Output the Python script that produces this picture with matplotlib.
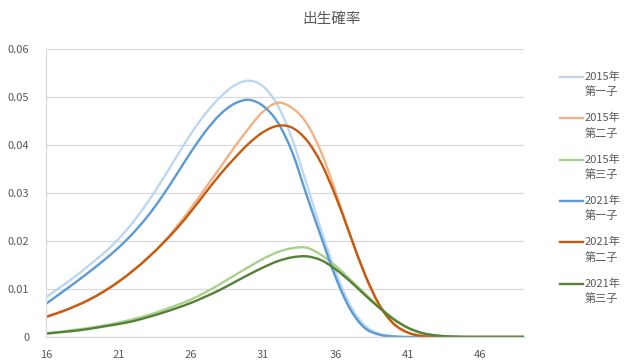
import matplotlib
matplotlib.use("Agg")
import matplotlib.pyplot as plt
from matplotlib.lines import Line2D
from matplotlib.path import Path
from matplotlib.patches import PathPatch

plt.rcParams['font.family'] = ['Noto Sans CJK JP', 'DejaVu Sans']

ages = list(range(16, 50))

s2015_1 = [0.0083, 0.0104, 0.0126, 0.0150, 0.0175, 0.0204, 0.0239, 0.0280, 0.0326, 0.0375,
           0.0423, 0.0465, 0.0499, 0.0524, 0.0534, 0.0522, 0.0482, 0.0412, 0.0318, 0.0222,
           0.0135, 0.0066, 0.0024, 0.0007, 0.0002, 0.0000, 0.0000, 0.0000, 0.0000, 0.0000,
           0.0000, 0.0000, 0.0000, 0.0000]
s2015_2 = [0.0042, 0.0052, 0.0064, 0.0078, 0.0095, 0.0115, 0.0138, 0.0164, 0.0194, 0.0229,
           0.0268, 0.0310, 0.0352, 0.0395, 0.0435, 0.0470, 0.0488, 0.0477, 0.0445, 0.0385,
           0.0302, 0.0212, 0.0130, 0.0066, 0.0027, 0.0009, 0.0002, 0.0000, 0.0000, 0.0000,
           0.0000, 0.0000, 0.0000, 0.0000]
s2015_3 = [0.0008, 0.0011, 0.0015, 0.0019, 0.0024, 0.0030, 0.0037, 0.0045, 0.0055, 0.0066,
           0.0078, 0.0093, 0.0110, 0.0128, 0.0146, 0.0163, 0.0177, 0.0185, 0.0186, 0.0171,
           0.0148, 0.0120, 0.0091, 0.0063, 0.0038, 0.0019, 0.0008, 0.0003, 0.0001, 0.0000,
           0.0000, 0.0000, 0.0000, 0.0000]
s2021_1 = [0.0069, 0.0091, 0.0113, 0.0136, 0.0160, 0.0186, 0.0216, 0.0251, 0.0292, 0.0338,
           0.0385, 0.0428, 0.0463, 0.0486, 0.0494, 0.0481, 0.0447, 0.0385, 0.0295, 0.0208,
           0.0124, 0.0058, 0.0019, 0.0005, 0.0001, 0.0000, 0.0000, 0.0000, 0.0000, 0.0000,
           0.0000, 0.0000, 0.0000, 0.0000]
s2021_2 = [0.0042, 0.0052, 0.0064, 0.0078, 0.0095, 0.0115, 0.0138, 0.0164, 0.0193, 0.0225,
           0.0261, 0.0300, 0.0338, 0.0372, 0.0403, 0.0427, 0.0440, 0.0436, 0.0410, 0.0362,
           0.0293, 0.0212, 0.0132, 0.0068, 0.0028, 0.0009, 0.0002, 0.0000, 0.0000, 0.0000,
           0.0000, 0.0000, 0.0000, 0.0000]
s2021_3 = [0.0007, 0.0010, 0.0013, 0.0017, 0.0022, 0.0027, 0.0033, 0.0041, 0.0050, 0.0060,
           0.0071, 0.0084, 0.0098, 0.0114, 0.0130, 0.0145, 0.0158, 0.0166, 0.0168, 0.0160,
           0.0141, 0.0116, 0.0088, 0.0061, 0.0037, 0.0019, 0.0008, 0.0003, 0.0001, 0.0000,
           0.0000, 0.0000, 0.0000, 0.0000]

series_labels = ["2015年第一子", "2015年第二子", "2015年第三子",
                 "2021年第一子", "2021年第二子", "2021年第三子"]
series_values = [s2015_1, s2015_2, s2015_3, s2021_1, s2021_2, s2021_3]
colors = ["#BDD7EE", "#F4B183", "#A9D18E", "#5B9BD5", "#C55A11", "#548235"]

y_ticks = [0, 0.01, 0.02, 0.03, 0.04, 0.05, 0.06]
y_tick_labels = ["0", "0.01", "0.02", "0.03", "0.04", "0.05", "0.06"]
title = "出生確率"


def smooth_path(xs, ys):
    """Excel-style smoothed line: cubic Bezier segments through every data point."""
    n = len(xs)
    verts = [(xs[0], ys[0])]
    codes = [Path.MOVETO]
    for i in range(n - 1):
        x0, y0 = (xs[i - 1], ys[i - 1]) if i > 0 else (xs[i], ys[i])
        x1, y1 = xs[i], ys[i]
        x2, y2 = xs[i + 1], ys[i + 1]
        x3, y3 = (xs[i + 2], ys[i + 2]) if i + 2 < n else (xs[i + 1], ys[i + 1])
        c1 = (x1 + (x2 - x0) / 6.0, y1 + (y2 - y0) / 6.0)
        c2 = (x2 - (x3 - x1) / 6.0, y2 - (y3 - y1) / 6.0)
        verts += [c1, c2, (x2, y2)]
        codes += [Path.CURVE4] * 3
    return Path(verts, codes)


W, H = 624, 361
fig = plt.figure(figsize=(W / 100, H / 100), dpi=100)
ax = fig.add_axes([46 / W, 1 - 337 / H, (524 - 46) / W, (337 - 49) / H])

xpos = list(range(len(ages)))
for vals, c in zip(series_values, colors):
    patch = PathPatch(smooth_path(xpos, vals), facecolor='none', edgecolor=c, lw=1.7,
                      capstyle='round', joinstyle='round')
    ax.add_patch(patch)

ax.set_xlim(0, len(ages) - 1)
ax.set_ylim(0, 0.06)
ax.set_yticks(y_ticks)
ax.set_yticklabels(y_tick_labels)
xt = [i for i, a in enumerate(ages) if (a - 16) % 5 == 0]
ax.set_xticks(xt)
ax.set_xticklabels([str(ages[i]) for i in xt])
ax.tick_params(length=0, labelsize=8, colors="#595959")
ax.tick_params(axis='y', pad=12)
ax.tick_params(axis='x', pad=9)
ax.grid(axis='y', color="#D9D9D9", lw=0.9)
ax.set_axisbelow(True)
for side in ['top', 'right']:
    ax.spines[side].set_visible(False)
for side in ['left', 'bottom']:
    ax.spines[side].set_color("#D9D9D9")
    ax.spines[side].set_linewidth(0.9)

fig.text(332 / W, 1 - 19 / H, title, ha='center', va='center', fontsize=10.5, color="#595959")

# legend
for i, (lab, c) in enumerate(zip(series_labels, colors)):
    ytop = 77 + 41.3 * i
    fig.add_artist(Line2D([560 / W, 583 / W], [1 - ytop / H, 1 - ytop / H],
                          color=c, lw=1.7, transform=fig.transFigure))
    fig.text(585 / W, 1 - ytop / H, lab[:5], ha='left', va='center', fontsize=8, color="#595959")
    fig.text(585 / W, 1 - (ytop + 15) / H, lab[5:], ha='left', va='center', fontsize=8, color="#595959")

fig.savefig("out.png", dpi=100, facecolor="white")
